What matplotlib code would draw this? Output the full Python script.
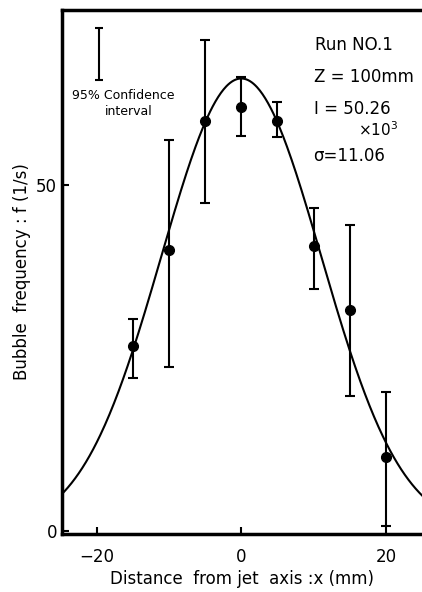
import numpy as np
import matplotlib.pyplot as plt

# measured bubble frequency (1/s) with 95% confidence limits
x_pts = [-15, -10, -5, 0, 5, 10, 15, 20]
f_pts = [26.7, 40.6, 59.2, 61.3, 59.3, 41.1, 31.9, 10.7]
f_hi = [30.6, 56.5, 71.0, 65.6, 62.0, 46.6, 44.2, 20.0]
f_lo = [22.0, 23.7, 47.4, 57.1, 57.0, 34.9, 19.4, 0.6]

# fitted gaussian parameters
I_total = 50.26e3
sigma = 11.06
z_mm = 100

x_ticks = [-20, 0, 20]
y_ticks = [0, 50]

fig = plt.figure(figsize=(4.22, 5.92), dpi=100)
ax = fig.add_axes([62/422, 1 - 534/592, 1 - 62/422, (534 - 10)/592])

xc = np.linspace(-25, 25, 400)
A = I_total / (2 * np.pi * sigma**2)
ax.plot(xc, A * np.exp(-xc**2 / (2 * sigma**2)), color='black', lw=1.5)

f_pts = np.array(f_pts)
yerr = [f_pts - np.array(f_lo), np.array(f_hi) - f_pts]
ax.errorbar(x_pts, f_pts, yerr=yerr, fmt='o', color='black', ms=7,
            elinewidth=1.5, capsize=3.3, capthick=1.5)

# confidence interval key
ax.errorbar([-19.7], [68.95], yerr=[[3.75], [3.75]], fmt='none', color='black',
            elinewidth=1.5, capsize=3, capthick=1.5)
ax.text(-23.4, 62.9, '95% Confidence', fontsize=9, va='center')
ax.text(-18.8, 60.6, 'interval', fontsize=9, va='center')

ax.text(10.2, 69.5, 'Run NO.1', fontsize=12)
ax.text(10.0, 64.9, 'Z = %dmm' % z_mm, fontsize=12)
ax.text(10.0, 60.3, 'I = %.2f' % (I_total / 1e3), fontsize=12)
ax.text(16.2, 57.1, r'$\times$10$^3$', fontsize=11)
ax.text(10.0, 53.4, '\u03c3=%.2f' % sigma, fontsize=12)

ax.set_xlim(-24.8, 25.0)
ax.set_ylim(-0.5, 75.3)
ax.set_xticks(x_ticks)
ax.set_yticks(y_ticks)
ax.tick_params(direction='in', length=5, width=1.5, labelsize=12)
ax.tick_params(axis='x', pad=10)
ax.set_xticklabels(['\u221220', '0', '20'])

for s in ['left', 'bottom', 'top']:
    ax.spines[s].set_linewidth(2.5)
ax.spines['right'].set_visible(False)

ax.set_xlabel('Distance  from jet  axis :x (mm)', fontsize=12, labelpad=3)
ax.set_ylabel('Bubble  frequency : f (1/s)', fontsize=12, labelpad=4)

fig.savefig('out.png', dpi=100)
